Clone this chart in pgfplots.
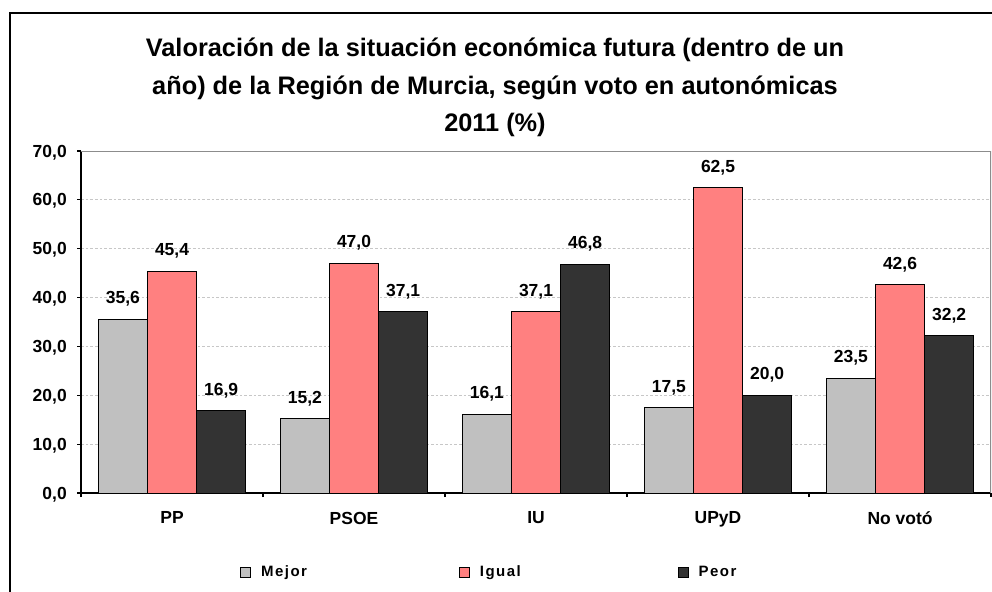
\documentclass[border=0pt]{standalone}
\usepackage{fontspec}
\setmainfont{Liberation Sans}
\usepackage{pgfplots}
\pgfplotsset{compat=1.18}

\definecolor{cMejor}{HTML}{C0C0C0}
\definecolor{cIgual}{HTML}{FF8080}
\definecolor{cPeor}{HTML}{333333}

\newcommand\lt[1]{\makebox[148.5pt][l]{\addfontfeatures{LetterSpace=10}#1}}

\pgfplotsset{
  mybar/.style={draw=black, line width=0.6pt,
    legend image code/.code={\draw[##1, line width=0.6pt] (0pt,-3.75pt) rectangle (7.5pt,3.75pt);}},
}

\begin{document}
\begin{tikzpicture}[x=0.75pt,y=-0.75pt]
\useasboundingbox (0,0) rectangle (992,592);
% outer chart frame (cut off at right and bottom)
\draw[line width=1.5pt] (10,620) -- (10,13) -- (1010,13);

% title
\begin{scope}[every node/.style={font=\bfseries\fontsize{19}{22}\selectfont, anchor=base}]
\node at (495,57) {Valoración de la situación económica futura (dentro de un};
\node at (495,94) {año) de la Región de Murcia, según voto en autonómicas};
\node at (495,131) {2011 (\%)};
\end{scope}

\begin{axis}[
  at={(60.75pt,-369.75pt)}, anchor=south west,
  width=682.5pt, height=256.5pt, scale only axis,
  ybar=0pt, bar width=0.27,
  ymin=0, ymax=70, ytick={0,10,...,70},
  xmin=-0.5, xmax=4.5,
  xtick={-0.5,0.5,...,4.5},
  x tick label as interval,
  xticklabels={PP,PSOE,IU,UPyD,No votó},
  axis x line*=bottom, axis y line*=left,
  axis line style={black, line width=0.8pt},
  tick align=outside, major tick length=3pt,
  tick style={black, line width=0.8pt},
  ymajorgrids,
  major grid style={black!22, dash pattern=on 2pt off 1.5pt, line width=0.6pt},
  /pgf/number format/.cd, fixed, fixed zerofill, precision=1, use comma, assume math mode=true,
  /pgfplots/.cd,
  ticklabel style={font=\bfseries\fontsize{13.1}{15}\selectfont, inner sep=0pt, text depth=0pt},
  yticklabel style={anchor=east, xshift=-7.5pt},
  xticklabel style={anchor=north, yshift=-11pt},
  nodes near coords,
  nodes near coords style={font=\bfseries\fontsize{13.1}{15}\selectfont, anchor=south,
    inner sep=0pt, text depth=0pt, yshift=11.25pt},
  legend columns=3,
  legend style={at={(axis description cs:0.1747,-0.231)}, anchor=west, draw=none, fill=none,
    inner sep=0pt, nodes={inner sep=0pt, font=\bfseries\fontsize{11.25}{13}\selectfont},
    /tikz/every odd column/.append style={column sep=7.5pt}},
]
\addplot[mybar, fill=cMejor] coordinates {
  (0,35.6) (1,15.2) (2,16.1) (3,17.5) (4,23.5)};
\addlegendentry{\lt{Mejor}}
\addplot[mybar, fill=cIgual] coordinates {
  (0,45.4) (1,47.0) (2,37.1) (3,62.5) (4,42.6)};
\addlegendentry{\lt{Igual}}
\addplot[mybar, fill=cPeor] coordinates {
  (0,16.9) (1,37.1) (2,46.8) (3,20.0) (4,32.2)};
\addlegendentry{\lt{Peor}}
\draw[black!45, line width=0.8pt] (rel axis cs:0,1) -- (rel axis cs:1,1) -- (rel axis cs:1,0);
\end{axis}
\end{tikzpicture}
\end{document}
